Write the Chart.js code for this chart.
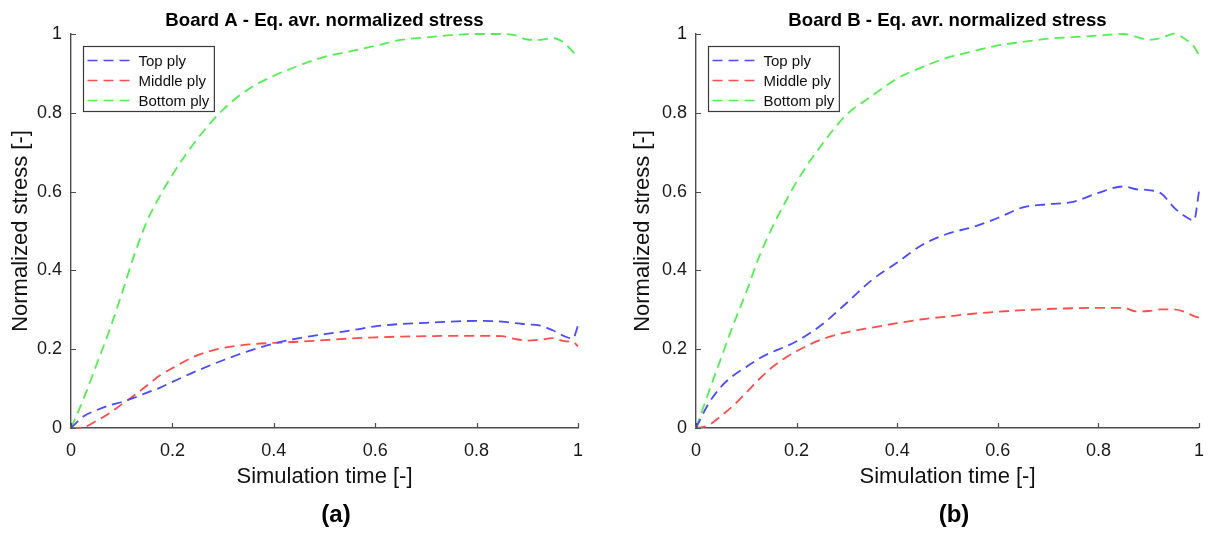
<!DOCTYPE html>
<html>
<head>
<meta charset="utf-8">
<script src="https://cdn.jsdelivr.net/npm/chart.js@4.4.1/dist/chart.umd.min.js"></script>
<style>
  body { margin: 0; background: #fff; }
  #wrap { position: relative; width: 1216px; height: 536px; }
  canvas { position: absolute; top: 0; }
</style>
</head>
<body>
<div id="wrap">
  <canvas id="boardA" width="608" height="536" style="left:0"></canvas>
  <canvas id="boardB" width="608" height="536" style="left:608px"></canvas>
</div>
<script>
// simulation time samples shared by every curve
const simTime = [0, 0.025, 0.05, 0.075, 0.1, 0.125, 0.15, 0.175, 0.2, 0.25, 0.3, 0.35, 0.4, 0.45,
  0.5, 0.55, 0.6, 0.65, 0.7, 0.75, 0.8, 0.85, 0.875, 0.9, 0.925, 0.95, 0.975, 0.99, 1];

// Board A
const topPlyA = [0, 0.03, 0.045, 0.057, 0.066, 0.077, 0.09, 0.102, 0.117, 0.146, 0.172, 0.195, 0.214, 0.228,
  0.238, 0.247, 0.258, 0.264, 0.267, 0.27, 0.272, 0.27, 0.266, 0.263, 0.26, 0.248, 0.232, 0.227, 0.26];
const middlePlyA = [0, 0.002, 0.018, 0.037, 0.06, 0.083, 0.108, 0.133, 0.152, 0.185, 0.203, 0.212, 0.216, 0.219,
  0.223, 0.227, 0.23, 0.232, 0.233, 0.234, 0.234, 0.233, 0.226, 0.222, 0.224, 0.228, 0.22, 0.219, 0.207];
const bottomPlyA = [0, 0.075, 0.16, 0.245, 0.34, 0.44, 0.525, 0.588, 0.643, 0.735, 0.808, 0.86, 0.894, 0.92,
  0.942, 0.956, 0.97, 0.985, 0.991, 0.997, 1.0, 1.0, 0.997, 0.986, 0.985, 0.99, 0.975, 0.955, 0.945];

// Board B
const topPlyB = [0, 0.062, 0.105, 0.134, 0.155, 0.176, 0.192, 0.205, 0.22, 0.262, 0.318, 0.376, 0.42, 0.465,
  0.493, 0.51, 0.533, 0.56, 0.568, 0.574, 0.597, 0.613, 0.606, 0.604, 0.595, 0.56, 0.535, 0.527, 0.6];
const middlePlyB = [0, 0.007, 0.031, 0.058, 0.09, 0.123, 0.153, 0.176, 0.195, 0.225, 0.243, 0.255, 0.266, 0.276,
  0.283, 0.29, 0.295, 0.299, 0.302, 0.304, 0.305, 0.305, 0.296, 0.297, 0.301, 0.301, 0.293, 0.284, 0.28];
const bottomPlyB = [0, 0.09, 0.178, 0.265, 0.345, 0.433, 0.505, 0.567, 0.625, 0.719, 0.796, 0.843, 0.887, 0.916,
  0.94, 0.956, 0.971, 0.98, 0.988, 0.992, 0.996, 1.0, 0.993, 0.985, 0.99, 1.001, 0.985, 0.968, 0.947];

const tickValues = [0, 0.2, 0.4, 0.6, 0.8, 1];
const tickLabels = ["0", "0.2", "0.4", "0.6", "0.8", "1"];
const plyNames = ["Top ply", "Middle ply", "Bottom ply"];

const FONT = "'Liberation Sans', Arial, sans-serif";
const AXIS_COLOR = "#4d4d4d";
const plyColors = ["rgb(74,74,255)", "rgb(255,76,76)", "rgb(80,240,80)"];

Chart.defaults.font.family = FONT;
Chart.defaults.color = "#1a1a1a";

// inward tick marks, plot title, sub-figure caption and boxed legend
const figureDecor = {
  id: "figureDecor",
  afterDraw(chart, args, o) {
    const { ctx, chartArea: a, scales: { x, y } } = chart;
    ctx.save();

    ctx.strokeStyle = AXIS_COLOR;
    ctx.lineWidth = 1.2;
    ctx.beginPath();
    x.ticks.forEach(t => {
      const px = Math.round(x.getPixelForValue(t.value)) + 0.5;
      ctx.moveTo(px, a.bottom);
      ctx.lineTo(px, a.bottom - 5);
    });
    y.ticks.forEach(t => {
      const py = Math.round(y.getPixelForValue(t.value)) + 0.5;
      ctx.moveTo(a.left, py);
      ctx.lineTo(a.left + 5, py);
    });
    ctx.stroke();

    ctx.fillStyle = "#000";
    ctx.textAlign = "center";
    ctx.textBaseline = "alphabetic";
    ctx.font = "bold 18.6px " + FONT;
    ctx.fillText(o.title, (a.left + a.right) / 2, 26);
    ctx.font = "bold 24px " + FONT;
    ctx.fillText(o.caption, o.captionX, 522);

    // legend
    ctx.font = "15px " + FONT;
    const sets = chart.data.datasets;
    const textW = Math.max(...sets.map(d => ctx.measureText(d.label).width));
    const bx = a.left + 12.5, by = a.top + 12.5;
    const bw = 56 + textW + 4, bh = 65;
    ctx.fillStyle = "#fff";
    ctx.fillRect(bx, by, bw, bh);
    ctx.strokeStyle = "#3a3a3a";
    ctx.lineWidth = 1.2;
    ctx.strokeRect(bx, by, bw, bh);
    ctx.textAlign = "left";
    ctx.textBaseline = "middle";
    sets.forEach((d, i) => {
      const ry = by + 14 + i * 20;
      ctx.strokeStyle = d.borderColor;
      ctx.lineWidth = 1.6;
      ctx.setLineDash([10, 6]);
      ctx.beginPath();
      ctx.moveTo(bx + 4, ry);
      ctx.lineTo(bx + 52, ry);
      ctx.stroke();
      ctx.setLineDash([]);
      ctx.fillStyle = "#111";
      ctx.fillText(d.label, bx + 55, ry + 1);
    });
    ctx.restore();
  }
};

function axis(titleText, fit, titlePad, padding) {
  return {
    type: "linear",
    min: 0,
    max: 1,
    grid: { display: false, drawTicks: false },
    border: { display: true, color: AXIS_COLOR, width: 1.4 },
    afterBuildTicks: s => { s.ticks = tickValues.map(v => ({ value: v })); },
    afterFit: fit,
    ticks: {
      padding: padding,
      font: { size: 18 },
      color: "#1a1a1a",
      callback: (v, i) => tickLabels[i]
    },
    title: {
      display: true,
      text: titleText,
      color: "#111",
      font: { size: 22 },
      padding: titlePad
    }
  };
}

function makeBoard(id, cfg) {
  const series = [cfg.top, cfg.middle, cfg.bottom];
  return new Chart(document.getElementById(id), {
    type: "line",
    data: {
      datasets: series.map((vals, k) => ({
        label: plyNames[k],
        data: simTime.map((t, i) => ({ x: t, y: vals[i] })),
        borderColor: plyColors[k],
        borderWidth: 1.8,
        borderDash: [10, 6],
        pointRadius: 0,
        cubicInterpolationMode: "monotone",
        clip: 6
      }))
    },
    options: {
      responsive: false,
      devicePixelRatio: 1,
      animation: false,
      layout: { padding: { left: cfg.padLeft, right: cfg.padRight, top: 34, bottom: 46 } },
      scales: {
        x: axis("Simulation time [-]", s => { s.height = 62; }, { top: 0, bottom: 0 }, 12),
        y: axis("Normalized stress [-]", s => { s.width = cfg.yWidth; }, { top: 8, bottom: 0 }, 9)
      },
      plugins: {
        legend: { display: false },
        tooltip: { enabled: false },
        figureDecor: { title: cfg.title, caption: cfg.caption, captionX: cfg.captionX }
      }
    },
    plugins: [figureDecor]
  });
}

makeBoard("boardA", {
  title: "Board A - Eq. avr. normalized stress",
  caption: "(a)",
  captionX: 336,
  padLeft: 0,
  padRight: 30,
  yWidth: 71,
  top: topPlyA,
  middle: middlePlyA,
  bottom: bottomPlyA
});

makeBoard("boardB", {
  title: "Board B - Eq. avr. normalized stress",
  caption: "(b)",
  captionX: 346,
  padLeft: 14,
  padRight: 14,
  yWidth: 74,
  top: topPlyB,
  middle: middlePlyB,
  bottom: bottomPlyB
});
</script>
</body>
</html>
